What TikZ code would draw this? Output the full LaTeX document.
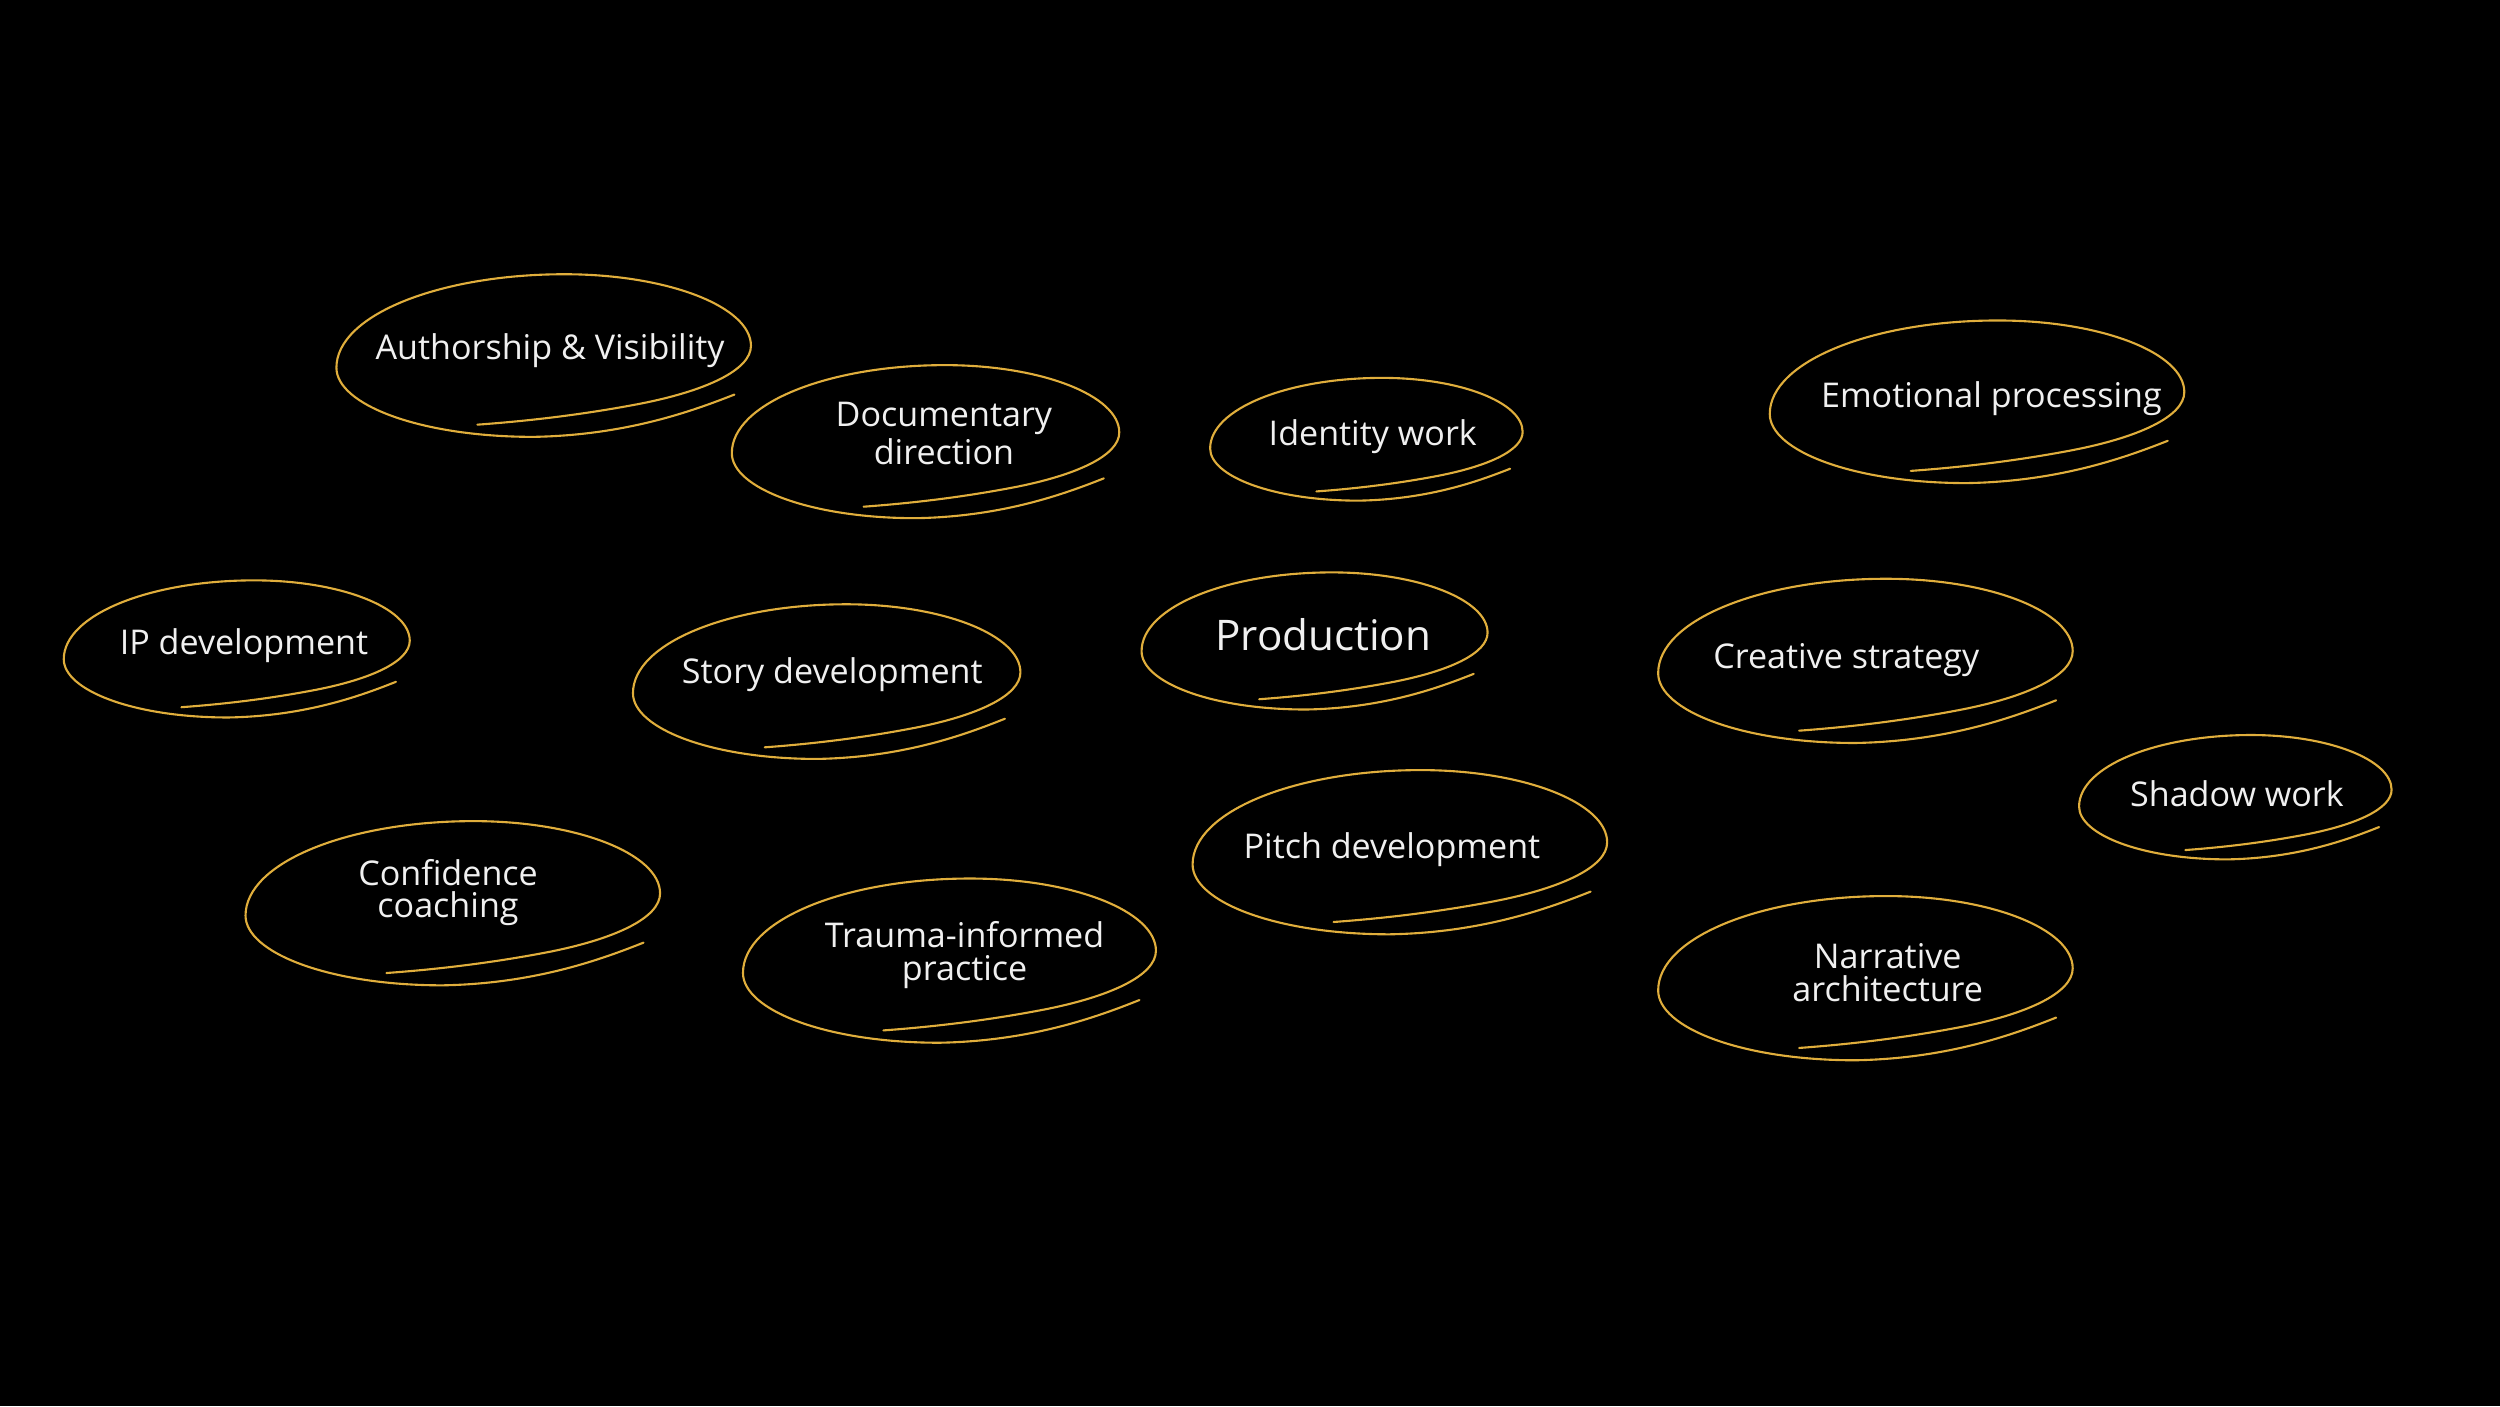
\documentclass[tikz,border=0pt]{standalone}
\usepackage{fontspec}
\setmainfont{Open Sans}
\usetikzlibrary{positioning}

\begin{document}
\begin{tikzpicture}[x=0.015944cm, y=-0.015944cm]
    \definecolor{gold}{RGB}{224,174,60}
\colorlet{ink}{white!94!black}
\colorlet{board}{black}

\newcommand\loopline{(0.92,0.48)
    .. controls (0.72,0.68) and (0.4,0.98) .. (-0.05,1)
    .. controls (-0.6,1) and (-1,0.6) .. (-1,0.15)
    .. controls (-1,-0.5) and (-0.5,-1) .. (0.1,-1)
    .. controls (0.6,-1) and (1,-0.6) .. (1,-0.12)
    .. controls (1,0.18) and (0.78,0.44) .. (0.45,0.6)
    .. controls (0.2,0.72) and (-0.05,0.8) .. (-0.32,0.85)}

\tikzset{
    ring/.style={
        gold, line width=0.6pt, line cap=round,
    },
    tag/.style={
        text=ink, align=center, inner sep=0pt,
        font=\fontsize{9.7}{9.2}\selectfont,
    },
    big tag/.style={
        tag, font=\fontsize{12}{13}\selectfont,
    },
}

% #2 name, #3/#4 centre, #5/#6 radii, #7 text place, #8 text
\newcommand\bubble[8][tag]{
    \draw[ring, shift={(#3,#4)}, xscale=#5, yscale=#6] \loopline;
    \node[#1] (#2) at (#7) {#8};
}

    \fill[board] (0,0) rectangle (1568,882);

    \bubble{auth}{341}{223}{130}{51}{345,220}{Authorship \& Visibility}
    \bubble{docu}{580.5}{277}{121.5}{48}{592,272}{Documentary\\direction}
    \bubble{ident}{857}{275.5}{98}{38.5}{861,274}{Identity work}
    \bubble{emot}{1240}{252}{130}{51}{1249,250}{Emotional processing}

    \bubble{ipdev}{148.5}{407}{108.5}{43}{153,405}{IP development}
    \bubble{story}{518.5}{427.5}{121.5}{48.5}{522,423}{Story development}
    \bubble[big tag]{prod}{824.5}{402}{108.5}{43}{830,398}{Production}
    \bubble{creat}{1170}{414.5}{130}{51.5}{1158,414}{Creative strategy}
    \bubble{shadow}{1402}{500}{98}{39}{1403,498}{Shadow work}

    \bubble{conf}{284}{566.5}{130}{51.5}{281,560}{Confidence\\coaching}
    \bubble{pitch}{878}{534.5}{130}{51.5}{873,533}{Pitch development}
    \bubble{trauma}{595.5}{602.5}{129.5}{51.5}{605,599}{Trauma-informed\\practice}
    \bubble{narr}{1170}{613.5}{130}{51.5}{1184,610}{Narrative\\architecture}
\end{tikzpicture}
\end{document}
